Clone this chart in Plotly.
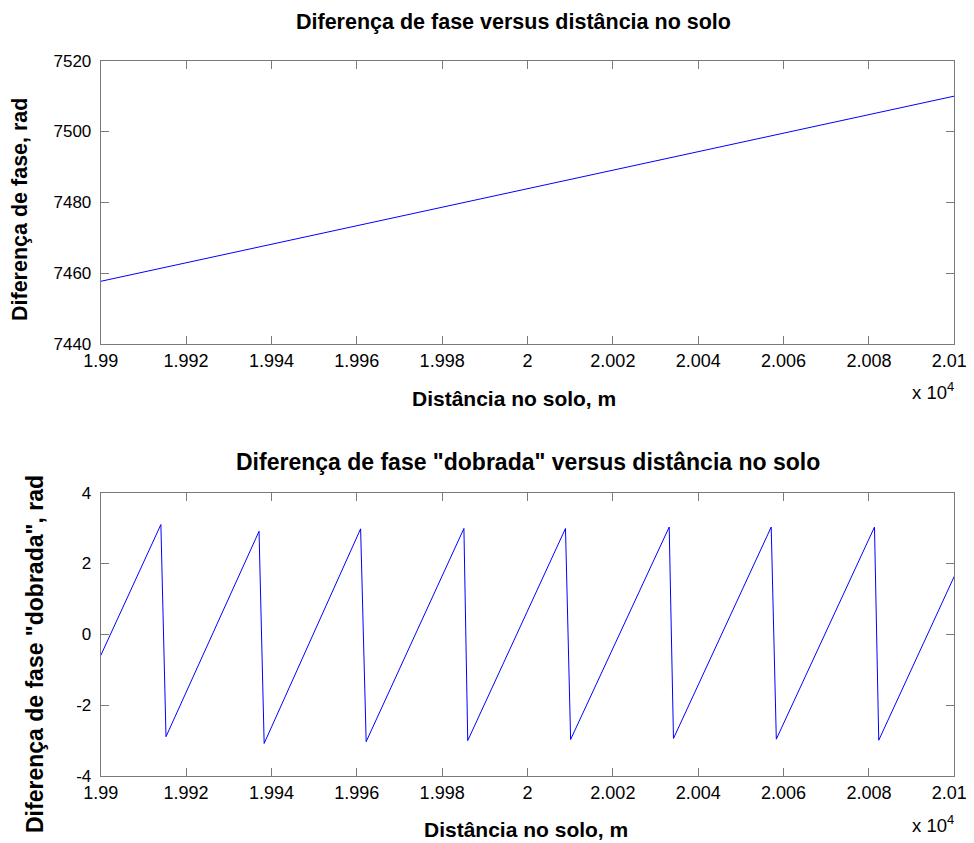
import plotly.graph_objects as go

# ---- data ----
dist_top = [19900, 20100]
phase_top = [7457.7, 7510.0]

dist_wrapped = [19900, 19914.1, 19915.3, 19937.1, 19938.3, 19960.9, 19962.2,
                19985.1, 19986.0, 20008.9, 20010.1, 20033.2, 20034.2,
                20057.1, 20058.3, 20081.3, 20082.3, 20100]
phase_wrapped = [-0.6, 3.10, -2.89, 2.91, -3.08, 2.98, -3.03,
                 2.99, -3.00, 2.99, -2.97, 3.03, -2.94,
                 3.03, -2.96, 3.03, -2.99, 1.64]

x_tickvals = [19900, 19920, 19940, 19960, 19980, 20000, 20020, 20040, 20060, 20080, 20100]
x_ticktext = ["1.99", "1.992", "1.994", "1.996", "1.998", "2", "2.002", "2.004", "2.006", "2.008",
              "2.01\u00a0\u00a0"]
y_top_ticks = [7440, 7460, 7480, 7500, 7520]
y_top_text = ["7440", "7460", "7480", "7500", "7520"]
y_bot_ticks = [-4, -2, 0, 2, 4]
y_bot_text = ["-4", "-2", "0", "2", "4"]

title_top = "Diferença de fase versus distância no solo"
title_bot = 'Diferença de fase "dobrada" versus distância no solo'
xlabel = "Distância no solo, m"
ylabel_top = "Diferença de fase, rad"
ylabel_bot = 'Diferença de fase "dobrada", rad'

# page body has an 8px margin
OFF = 8
W, H = 974 - OFF, 843 - OFF
FONT = "Liberation Sans, Arial, Helvetica, sans-serif"
AXC = "#7a7a7a"

def px(x):
    return (x - OFF) / W

def py(y):
    return 1 - (y - OFF) / H

L, R = 100.7, 954.3
top_t, top_b = 60.7, 344.0
bot_t, bot_b = 492.7, 776.0

fig = go.Figure()
fig.add_trace(go.Scatter(x=dist_top, y=phase_top, mode="lines",
                         line=dict(color="#0000ff", width=1), xaxis="x", yaxis="y",
                         showlegend=False, hoverinfo="skip"))
fig.add_trace(go.Scatter(x=dist_wrapped, y=phase_wrapped, mode="lines",
                         line=dict(color="#0000ff", width=1), xaxis="x2", yaxis="y2",
                         showlegend=False, hoverinfo="skip"))

axcommon = dict(showline=True, linecolor=AXC, linewidth=1, mirror="ticks",
                ticks="inside", ticklen=8, tickcolor=AXC, tickwidth=1,
                showgrid=False, zeroline=False, automargin=False,
                ticklabeloverflow="allow")
xfont = dict(family=FONT, size=18, color="black")
yfont = dict(family=FONT, size=17, color="black")

fig.update_layout(
    width=W, height=H,
    margin=dict(l=0, r=0, t=0, b=0),
    paper_bgcolor="white", plot_bgcolor="white",
    xaxis=dict(domain=[px(L), px(R)], range=[19900, 20100], anchor="y",
               tickvals=x_tickvals, ticktext=x_ticktext, tickfont=xfont, **axcommon),
    yaxis=dict(domain=[py(top_b), py(top_t)], range=[7440, 7520], anchor="x",
               tickvals=y_top_ticks, ticktext=y_top_text, tickfont=yfont,
               ticklabelstandoff=5, **axcommon),
    xaxis2=dict(domain=[px(L), px(R)], range=[19900, 20100], anchor="y2",
                tickvals=x_tickvals, ticktext=x_ticktext, tickfont=xfont, **axcommon),
    yaxis2=dict(domain=[py(bot_b), py(bot_t)], range=[-4, 4], anchor="x2",
                tickvals=y_bot_ticks, ticktext=y_bot_text, tickfont=yfont,
                ticklabelstandoff=5, **axcommon),
)

def ann(text, x, y, size, angle=0, xanchor="center", yanchor="middle"):
    fig.add_annotation(text=text, x=px(x), y=py(y), xref="paper", yref="paper",
                       showarrow=False, textangle=angle, xanchor=xanchor, yanchor=yanchor,
                       font=dict(family=FONT, size=size, color="black"))

cx = (L + R) / 2
ann("<b>%s</b>" % title_top, 513, 22, 21.5)
ann("<b>%s</b>" % title_bot, cx, 462, 23)
ann("<b>%s</b>" % xlabel, 514, 398, 21)
ann("<b>%s</b>" % xlabel, 526, 829, 21)
ann("<b>%s</b>" % ylabel_top, 20, 210, 21.5, angle=-90)
ann("<b>%s</b>" % ylabel_bot, 35, 654, 23, angle=-90)
ann("x 10<sup>4</sup>", 910, 391, 18.5, xanchor="left")
ann("x 10<sup>4</sup>", 910, 824, 18.5, xanchor="left")

fig.write_html("out.html")
